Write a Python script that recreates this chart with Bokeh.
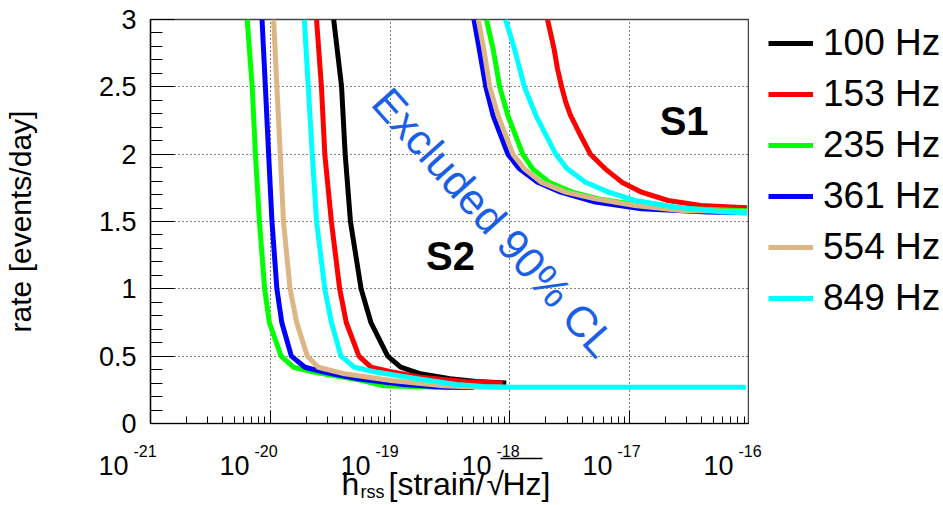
import numpy as np
from bokeh.plotting import figure
from bokeh.layouts import column, row
from bokeh.models import FixedTicker, Label, Legend, LegendItem, Arrow, Range1d
from bokeh.embed import file_html
from bokeh.resources import INLINE

# ---------------- data ----------------
FREQ_LABELS = ["100 Hz", "153 Hz", "235 Hz", "361 Hz", "554 Hz", "849 Hz"]
COLORS = ["#000000", "#ff0000", "#00ff00", "#0000ff", "#dcb684", "#00ffff"]

# S2 run: rate [events/day] vs log10(h_rss)
S2_RATE_100 = [3.0, 2.5, 2.0, 1.5, 1.0, 0.75, 0.5, 0.418, 0.369, 0.332, 0.312, 0.30]
S2_LOGH_100 = [-19.471, -19.405, -19.375, -19.331, -19.242, -19.16, -19.02, -18.912, -18.747, -18.5, -18.28, -18.03]
S2_RATE_153 = [3.0, 2.5, 2.0, 1.5, 1.0, 0.75, 0.5, 0.418, 0.385, 0.343, 0.31, 0.30]
S2_LOGH_153 = [-19.614, -19.573, -19.545, -19.49, -19.421, -19.366, -19.26, -19.16, -18.994, -18.747, -18.36, -18.06]
S2_RATE_235 = [3.0, 2.5, 2.0, 1.5, 1.0, 0.75, 0.5, 0.418, 0.38, 0.32, 0.28, 0.27]
S2_LOGH_235 = [-20.193, -20.151, -20.124, -20.091, -20.047, -20.008, -19.91, -19.807, -19.628, -19.242, -19.05, -18.6]
S2_RATE_361 = [3.0, 2.5, 2.0, 1.5, 1.0, 0.75, 0.5, 0.418, 0.38, 0.332, 0.29, 0.27, 0.268]
S2_LOGH_361 = [-20.069, -20.041, -20.014, -19.986, -19.945, -19.904, -19.824, -19.711, -19.545, -19.27, -18.884, -18.554, -18.3]
S2_RATE_554 = [3.0, 2.5, 2.0, 1.5, 1.0, 0.75, 0.5, 0.418, 0.369, 0.32, 0.28, 0.27, 0.27]
S2_LOGH_554 = [-19.972, -19.945, -19.917, -19.89, -19.835, -19.78, -19.69, -19.6, -19.38, -18.994, -18.554, -18.25, -18.0]
S2_RATE_849 = [3.0, 2.5, 2.0, 1.5, 1.0, 0.75, 0.5, 0.418, 0.38, 0.332, 0.29, 0.275, 0.27, 0.27]
S2_LOGH_849 = [-19.716, -19.683, -19.65, -19.614, -19.545, -19.49, -19.41, -19.298, -19.105, -18.774, -18.444, -18.223, -18.0, -16.03]

# S1 run (no 100 Hz curve visible)
S1_RATE_153 = [3.0, 2.78, 2.634, 2.5, 2.386, 2.287, 2.163, 2.0, 1.891, 1.792, 1.718, 1.656, 1.619, 1.602]
S1_LOGH_153 = [-17.686, -17.631, -17.603, -17.568, -17.534, -17.493, -17.424, -17.328, -17.204, -17.066, -16.901, -16.68, -16.405, -16.02]
S1_RATE_235 = [3.0, 2.78, 2.5, 2.287, 2.0, 1.891, 1.792, 1.718, 1.668, 1.619, 1.594, 1.58]
S1_LOGH_235 = [-18.196, -18.14, -18.085, -18.017, -17.893, -17.81, -17.672, -17.479, -17.259, -16.901, -16.488, -16.02]
S1_RATE_361 = [3.0, 2.78, 2.5, 2.287, 2.0, 1.891, 1.792, 1.718, 1.644, 1.594, 1.57, 1.565]
S1_LOGH_361 = [-18.3, -18.256, -18.201, -18.14, -18.017, -17.92, -17.769, -17.576, -17.287, -16.901, -16.35, -16.02]
S1_RATE_554 = [3.0, 2.78, 2.5, 2.287, 2.0, 1.891, 1.792, 1.718, 1.668, 1.619, 1.582, 1.575]
S1_LOGH_554 = [-18.264, -18.218, -18.168, -18.099, -17.975, -17.879, -17.741, -17.535, -17.287, -16.956, -16.57, -16.02]
S1_RATE_849 = [3.0, 2.78, 2.5, 2.287, 2.0, 1.891, 1.792, 1.718, 1.656, 1.607, 1.57, 1.565]
S1_LOGH_849 = [-18.036, -17.961, -17.879, -17.782, -17.617, -17.521, -17.369, -17.176, -16.956, -16.626, -16.212, -16.02]

X_TICK_BASE = "10"
X_TICK_EXPONENTS = [-21, -20, -19, -18, -17, -16]
Y_TICKS = [0, 0.5, 1, 1.5, 2, 2.5, 3]
Y_TICK_LABELS = ["0", "0.5", "1", "1.5", "2", "2.5", "3"]
Y_TITLE = "rate [events/day]"
X_TITLE_MAIN, X_TITLE_SUB = "h", "rss"
X_TITLE_UNIT_A, X_TITLE_ROOT, X_TITLE_UNIT_B = "[strain/", "\u221a", "Hz]"

S2_RATES = [S2_RATE_100, S2_RATE_153, S2_RATE_235, S2_RATE_361, S2_RATE_554, S2_RATE_849]
S2_LOGHS = [S2_LOGH_100, S2_LOGH_153, S2_LOGH_235, S2_LOGH_361, S2_LOGH_554, S2_LOGH_849]
S1_RATES = [None, S1_RATE_153, S1_RATE_235, S1_RATE_361, S1_RATE_554, S1_RATE_849]
S1_LOGHS = [None, S1_LOGH_153, S1_LOGH_235, S1_LOGH_361, S1_LOGH_554, S1_LOGH_849]

# ---------------- layout ----------------
W, H = 943, 505
PL, PR, PT, PB = 144, 749, 19, 423   # frame in page pixels
H1 = 438                              # height of the main figure canvas
XMIN_E, XMAX_E = -21, -16
YMIN, YMAX = 0.0, 3.0
FONT = "Liberation Sans"
DEC = (PR - PL) / (XMAX_E - XMIN_E)   # pixels per decade


def px2x(xp):
    return 10.0 ** (XMIN_E + (xp - PL) / DEC)


def py2y(yp):
    return YMIN + (PB - yp) / (PB - PT) * (YMAX - YMIN)


def bare(fig):
    fig.outline_line_color = None
    fig.background_fill_color = "white"
    fig.border_fill_color = "white"
    fig.frame_align = False


# ---------------- main plot ----------------
p = figure(width=PR, height=H1, x_axis_type="log",
           x_range=(10.0 ** XMIN_E, 10.0 ** XMAX_E), y_range=(YMIN, YMAX),
           output_backend="svg", toolbar_location=None,
           min_border_left=PL, min_border_right=0,
           min_border_top=PT, min_border_bottom=H1 - PB)
p.frame_align = False
p.background_fill_color = "white"
p.border_fill_color = "white"
p.outline_line_color = "#444444"
p.outline_line_width = 1.5

xa = p.xaxis[0]
xt = FixedTicker(ticks=[10.0 ** e for e in X_TICK_EXPONENTS],
                 minor_ticks=[m * 10.0 ** e for e in X_TICK_EXPONENTS[:-1] for m in range(2, 10)])
xa.ticker = xt
p.xgrid[0].ticker = xt
xa.major_label_text_alpha = 0
xa.major_label_text_font_size = "1px"
xa.major_label_standoff = 0
xa.major_tick_in = 13
xa.major_tick_out = 0
xa.minor_tick_in = 7
xa.minor_tick_out = 0
xa.axis_line_color = "black"
xa.axis_line_width = 1.2
xa.major_tick_line_color = "black"
xa.minor_tick_line_color = "black"

ya = p.yaxis[0]
yt = FixedTicker(ticks=Y_TICKS, minor_ticks=[i / 10 for i in range(31)])
ya.ticker = yt
p.ygrid[0].ticker = yt
ya.major_label_overrides = {t: l for t, l in zip(Y_TICKS, Y_TICK_LABELS)}
ya.major_label_text_font = FONT
ya.major_label_text_font_size = "27px"
ya.major_label_text_color = "black"
ya.major_label_standoff = 14
ya.major_tick_in = 24
ya.major_tick_out = 0
ya.minor_tick_in = 12
ya.minor_tick_out = 0
ya.axis_line_color = "black"
ya.axis_line_width = 1.2
ya.major_tick_line_color = "black"
ya.minor_tick_line_color = "black"
ya.axis_label = Y_TITLE
ya.axis_label_text_font = FONT
ya.axis_label_text_font_size = "30px"
ya.axis_label_text_font_style = "normal"
ya.axis_label_text_color = "black"
ya.axis_label_standoff = 59

for g in (p.xgrid[0], p.ygrid[0]):
    g.grid_line_color = "black"
    g.grid_line_dash = "1 3"
    g.grid_line_width = 1

for i, col in enumerate(COLORS):
    p.line(10.0 ** np.array(S2_LOGHS[i]), S2_RATES[i], line_color=col, line_width=5,
           line_join="round")
    if S1_RATES[i] is not None:
        p.line(10.0 ** np.array(S1_LOGHS[i]), S1_RATES[i], line_color=col, line_width=5,
               line_join="round")

p.add_layout(Label(x=px2x(683), y=py2y(120), text="S1", text_font=FONT, text_font_style="bold",
                   text_font_size="40px", text_color="black",
                   text_align="center", text_baseline="middle"))
p.add_layout(Label(x=px2x(447), y=py2y(255), text="S2", text_font=FONT, text_font_style="bold",
                   text_font_size="40px", text_color="black",
                   text_align="center", text_baseline="middle"))
p.add_layout(Label(x=px2x(491), y=py2y(222), text="Excluded 90% CL", text_font=FONT,
                   text_font_size="43px", text_color="#1a5fe6", angle=-48.5, angle_units="deg",
                   text_align="center", text_baseline="middle"))

# ---------------- legend strip (right of the frame) ----------------
r = figure(width=W - PR, height=H1, x_range=Range1d(0, 1), y_range=Range1d(0, 1),
           output_backend="svg", toolbar_location=None,
           x_axis_location=None, y_axis_location=None,
           min_border_left=0, min_border_right=0, min_border_top=0, min_border_bottom=0)
bare(r)
r.grid.visible = False
items = []
for lab, col in zip(FREQ_LABELS, COLORS):
    rr = r.line([np.nan], [np.nan], line_color=col, line_width=5)   # legend swatch only
    items.append(LegendItem(label=lab, renderers=[rr]))
ROW_H, SPACING = 42, 9
leg_h = len(items) * ROW_H + (len(items) - 1) * SPACING
leg_top_page = 43 - ROW_H / 2
legend = Legend(items=items, orientation="vertical",
                location=(768 - PR, (H1 - leg_top_page) - leg_h),
                label_text_font=FONT, label_text_font_size="37px", label_text_color="black",
                glyph_width=45, glyph_height=ROW_H, label_height=ROW_H, spacing=SPACING,
                padding=0, margin=0, label_standoff=10,
                border_line_color=None, background_fill_alpha=0)
r.add_layout(legend, "center")

# ---------------- strip below: x tick labels and x title ----------------
q = figure(width=W, height=H - H1, x_axis_type="log",
           x_range=Range1d(10.0 ** (XMIN_E - PL / DEC), 10.0 ** (XMAX_E + (W - PR) / DEC)),
           y_range=Range1d(H, H1),
           output_backend="svg", toolbar_location=None,
           x_axis_location=None, y_axis_location=None,
           min_border_left=0, min_border_right=0, min_border_top=0, min_border_bottom=0)
bare(q)
q.grid.visible = False


def qlabel(x, y, text, size, align="left", x_offset=0):
    q.add_layout(Label(x=x, y=y, x_offset=x_offset, text=text, text_font=FONT,
                       text_font_size=size, text_color="black", text_align=align,
                       text_baseline="alphabetic"))


for e in X_TICK_EXPONENTS:
    qlabel(10.0 ** e, 465, X_TICK_BASE, "27px", align="right", x_offset=-16)
    qlabel(10.0 ** e, 450, str(e), "16px", align="left", x_offset=-11)

qlabel(px2x(341), 483, X_TITLE_MAIN, "32px")
qlabel(px2x(360), 491, X_TITLE_SUB, "18px")
qlabel(px2x(388), 483, X_TITLE_UNIT_A, "32px")
qlabel(px2x(486), 483, X_TITLE_ROOT, "32px")
qlabel(px2x(502), 483, X_TITLE_UNIT_B, "32px")
q.add_layout(Arrow(x_start=px2x(500), y_start=458, x_end=px2x(542), y_end=458,
                   start=None, end=None, line_color="black", line_width=1.5))

layout = column(row(p, r, spacing=0), q, spacing=0)
open("out.html", "w").write(file_html(layout, INLINE))
